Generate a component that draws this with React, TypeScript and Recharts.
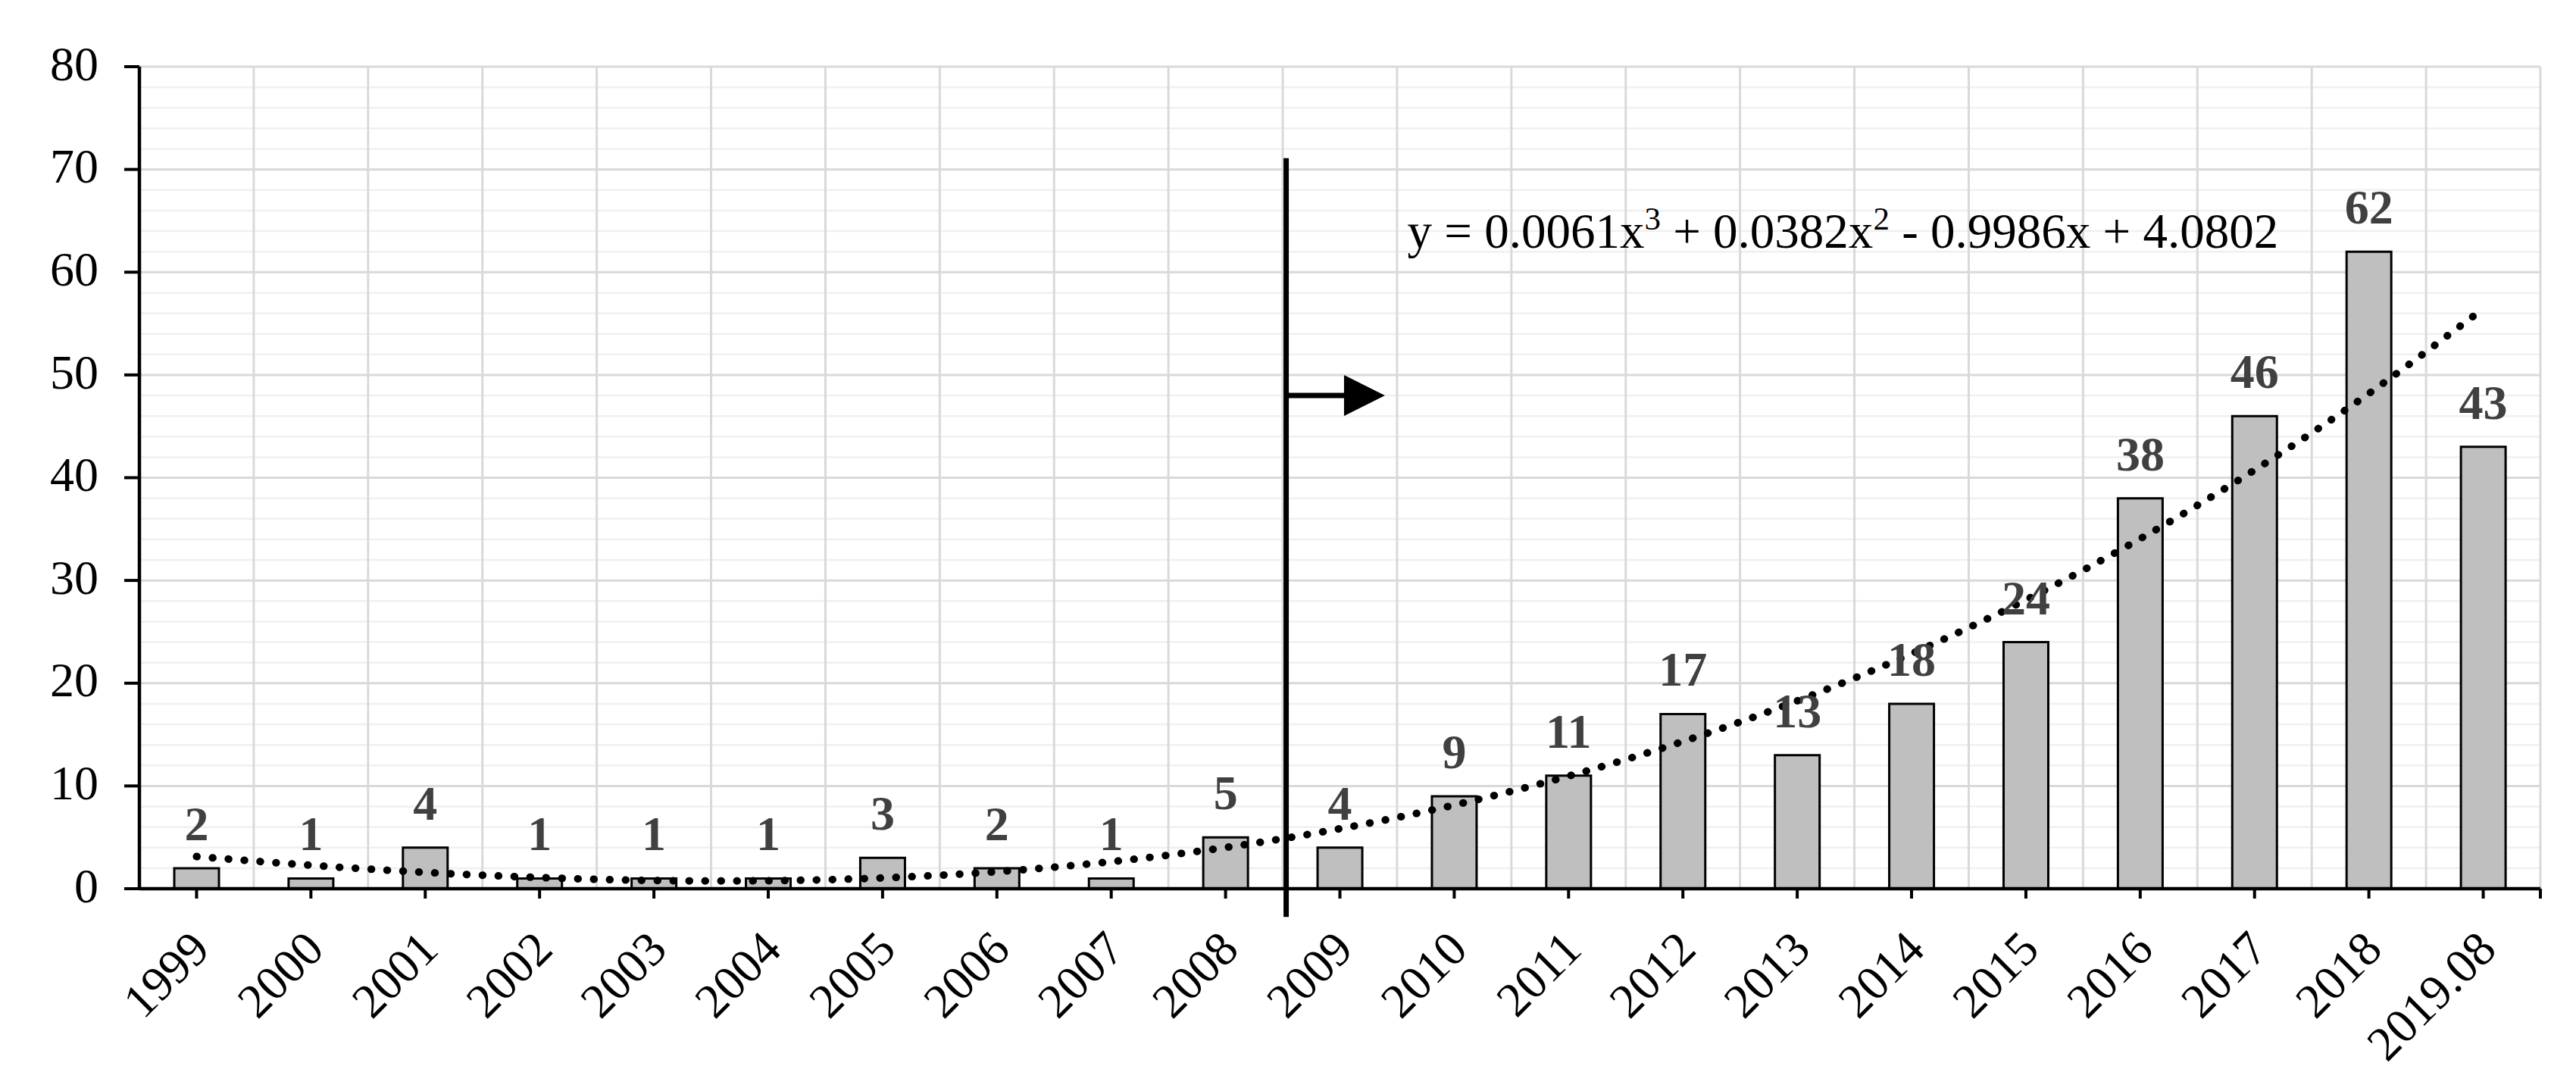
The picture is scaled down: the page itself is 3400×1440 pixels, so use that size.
import React from 'react';
import {
  ComposedChart,
  Bar,
  Line,
  XAxis,
  YAxis,
  CartesianGrid,
  LabelList,
  ReferenceLine,
  ReferenceDot,
} from 'recharts';

const years = [
  '1999', '2000', '2001', '2002', '2003', '2004', '2005', '2006', '2007', '2008',
  '2009', '2010', '2011', '2012', '2013', '2014', '2015', '2016', '2017', '2018', '2019.08',
];
const counts = [2, 1, 4, 1, 1, 1, 3, 2, 1, 5, 4, 9, 11, 17, 13, 18, 24, 38, 46, 62, 43];
const trend = [
  3.13, 2.28, 1.59, 1.09, 0.8, 0.78, 1.05, 1.66, 2.63, 4.01, 5.84, 8.14, 10.96, 14.33,
  18.28, 22.87, 28.11, 34.06, 40.74, 48.19, 56.45,
];
const yTicks = [0, 10, 20, 30, 40, 50, 60, 70, 80];
const minorTicks = [
  2, 4, 6, 8, 12, 14, 16, 18, 22, 24, 26, 28, 32, 34, 36, 38, 42, 44, 46, 48, 52, 54, 56, 58,
  62, 64, 66, 68, 72, 74, 76, 78,
];
const equationParts = ['y = 0.0061x', '3', ' + 0.0382x', '2', ' - 0.9986x + 4.0802'];

const data = years.map((year, i) => ({ year, count: counts[i], trend: trend[i] }));

const FONT = "'Liberation Serif', 'Times New Roman', serif";
const Y_MAX = 80;

// annotation positions, in category-index units (boundary between 2008 and 2009 = 9.5)
const DIVIDER_X = 9.53;
const ARROW_TIP_X = 10.394;
const ARROW_Y = 48;
const DIVIDER_TOP = 71.1;
const DIVIDER_BOTTOM = -2.75;
const EQ_X = 10.59;
const EQ_Y = 62.4;

const scaleY = (yAxis: any, offset: any, v: number) => {
  if (yAxis && typeof yAxis.scale === 'function') return yAxis.scale(v);
  return offset.top + offset.height * (1 - v / Y_MAX);
};

const minorGen = ({ yAxis, offset }: any) => minorTicks.map((v) => scaleY(yAxis, offset, v));
const majorGen = ({ yAxis, offset }: any) => yTicks.map((v) => scaleY(yAxis, offset, v));
const vertGen = ({ offset }: any) =>
  Array.from({ length: years.length + 1 }, (_, i) => offset.left + (i * offset.width) / years.length);

const XTick = (props: any) => {
  const { x, y, payload } = props;
  return (
    <g transform={`translate(${x - 12},${y})`}>
      <text
        transform="rotate(-45)"
        textAnchor="end"
        dy="0.71em"
        fontSize={64}
        fontFamily={FONT}
        fill="#000"
      >
        {payload.value}
      </text>
    </g>
  );
};

const YTick = (props: any) => {
  const { x, y, payload } = props;
  return (
    <text x={x} y={y - 5} dy="0.355em" textAnchor="end" fontSize={64} fontFamily={FONT} fill="#000">
      {payload.value}
    </text>
  );
};

const ArrowShape = (p: any) => {
  const { x1, y1, x2 } = p;
  const head = 54;
  return (
    <g>
      <line x1={x1} y1={y1} x2={x2 - head + 2} y2={y1} stroke="#000" strokeWidth={7} />
      <polygon points={`${x2 - head},${y1 - 27} ${x2},${y1} ${x2 - head},${y1 + 27}`} fill="#000" />
    </g>
  );
};

const EquationShape = (p: any) => {
  const { cx, cy } = p;
  return (
    <text x={cx} y={cy} fontSize={65} fontFamily={FONT} fill="#000" style={{ whiteSpace: 'pre' }}>
      <tspan>{equationParts[0]}</tspan>
      <tspan dy={-24} fontSize={43}>{equationParts[1]}</tspan>
      <tspan dy={24}>{equationParts[2]}</tspan>
      <tspan dy={-24} fontSize={43}>{equationParts[3]}</tspan>
      <tspan dy={24}>{equationParts[4]}</tspan>
    </text>
  );
};

const indexOfYear = (d: any) => years.indexOf(d.year);

export default function App() {
  return (
    <div style={{ position: 'absolute', left: 0, top: 0, background: '#fff' }}>
      <ComposedChart
        width={3400}
        height={1440}
        data={data}
        margin={{ top: 88, right: 47, left: 0, bottom: 0 }}
        barSize={59}
      >
        <CartesianGrid
          horizontal
          vertical={false}
          stroke="#f0f0f0"
          strokeWidth={2.5}
          horizontalCoordinatesGenerator={minorGen}
        />
        <CartesianGrid
          horizontal
          vertical
          stroke="#d9d9d9"
          strokeWidth={3}
          horizontalCoordinatesGenerator={majorGen}
          verticalCoordinatesGenerator={vertGen}
        />
        <XAxis
          dataKey="year"
          interval={0}
          height={267}
          tickSize={13}
          tickMargin={38}
          tick={<XTick />}
          axisLine={{ stroke: '#000', strokeWidth: 4.5 }}
          tickLine={{ stroke: '#000', strokeWidth: 4 }}
        />
        <XAxis
          xAxisId="num"
          type="number"
          dataKey={indexOfYear}
          domain={[-0.5, years.length - 0.5]}
          allowDataOverflow
          hide
        />
        <YAxis
          width={184}
          domain={[0, Y_MAX]}
          ticks={yTicks}
          interval={0}
          tickSize={20}
          tickMargin={34}
          tick={<YTick />}
          axisLine={{ stroke: '#000', strokeWidth: 4.5 }}
          tickLine={{ stroke: '#000', strokeWidth: 4 }}
        />
        <Bar dataKey="count" fill="#bfbfbf" stroke="#000" strokeWidth={3} isAnimationActive={false}>
          <LabelList
            dataKey="count"
            position="top"
            offset={37}
            fill="#404040"
            fontSize={64}
            fontWeight="bold"
            fontFamily={FONT}
          />
        </Bar>
        <Line
          dataKey="trend"
          type="natural"
          stroke="#000"
          strokeWidth={10}
          strokeDasharray="0.5 20.5"
          strokeLinecap="round"
          dot={false}
          activeDot={false}
          isAnimationActive={false}
        />
        <ReferenceLine
          xAxisId="num"
          segment={[{ x: DIVIDER_X, y: DIVIDER_TOP }, { x: DIVIDER_X, y: DIVIDER_BOTTOM }]}
          stroke="#000"
          strokeWidth={7}
          ifOverflow="visible"
        />
        <ReferenceLine
          xAxisId="num"
          segment={[{ x: DIVIDER_X, y: ARROW_Y }, { x: ARROW_TIP_X, y: ARROW_Y }]}
          stroke="#000"
          ifOverflow="visible"
          shape={ArrowShape}
        />
        <ReferenceLine
          xAxisId="num"
          segment={[{ x: years.length - 0.5, y: 0 }, { x: years.length - 0.5, y: -0.96 }]}
          stroke="#000"
          strokeWidth={4}
          ifOverflow="visible"
        />
        <ReferenceDot xAxisId="num" x={EQ_X} y={EQ_Y} r={0} ifOverflow="visible" shape={EquationShape} />
      </ComposedChart>
    </div>
  );
}
